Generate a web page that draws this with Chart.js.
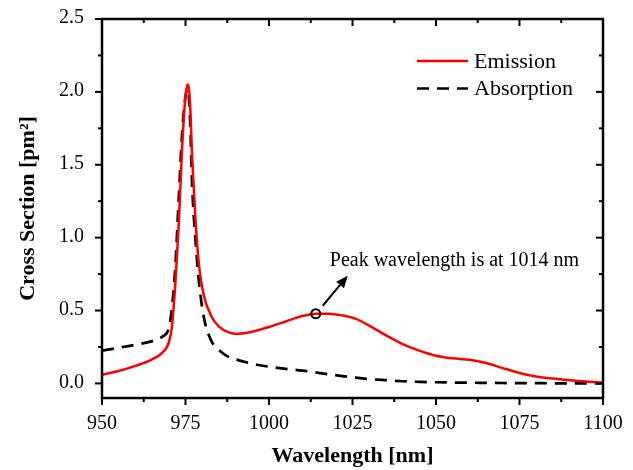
<!DOCTYPE html>
<html>
<head>
<meta charset="utf-8">
<script src="https://cdn.jsdelivr.net/npm/chart.js@4"></script>
<style>
  body { margin: 0; background: #fff; }
  canvas { display: block; }
</style>
</head>
<body>
<canvas id="xsChart" width="633" height="470"></canvas>
<script>
// wavelength grid (nm) shared by both curves
const wavelengths = [950, 955, 960, 965, 968, 970, 971, 972, 973, 974, 975, 975.6, 976.3, 977, 978, 979, 980, 981, 982, 983,
  985, 988, 990, 995, 1000, 1005, 1010, 1014, 1018, 1022, 1026, 1030, 1035, 1040, 1045, 1050, 1055, 1060, 1065, 1070,
  1075, 1080, 1085, 1090, 1095, 1100];
// cross sections (pm^2)
const emission = [0.06, 0.085, 0.12, 0.165, 0.21, 0.28, 0.4, 0.7, 1.1, 1.62, 1.97, 2.05, 1.95, 1.55, 1.12, 0.82, 0.66, 0.56, 0.5, 0.45,
  0.39, 0.35, 0.34, 0.355, 0.387, 0.425, 0.462, 0.478, 0.478, 0.466, 0.443, 0.397, 0.33, 0.27, 0.225, 0.19, 0.172, 0.162, 0.14, 0.105,
  0.072, 0.048, 0.033, 0.022, 0.013, 0.007];
const absorption = [0.225, 0.245, 0.265, 0.29, 0.32, 0.38, 0.53, 0.82, 1.28, 1.72, 1.97, 2.02, 1.85, 1.35, 0.98, 0.7, 0.52, 0.4, 0.33, 0.28,
  0.23, 0.18, 0.165, 0.135, 0.115, 0.1, 0.088, 0.075, 0.062, 0.05, 0.04, 0.03, 0.022, 0.015, 0.011, 0.008, 0.006, 0.005, 0.004, 0.003,
  0.002, 0.002, 0.001, 0.001, 0.001, 0.001];

const xTickValues = [950, 975, 1000, 1025, 1050, 1075, 1100];
const yTickValues = [0.0, 0.5, 1.0, 1.5, 2.0, 2.5];

const peakWavelength = 1014;
const peakValue = 0.478;
const peakNote = "Peak wavelength is at 1014 nm";

const FONT = '"Liberation Serif", "Times New Roman", serif';

function toPoints(ys) {
  return wavelengths.map((x, i) => ({ x: x, y: ys[i] }));
}

// midpoints between majors -> minor ticks
function minorsOf(arr) {
  const out = [];
  for (let i = 0; i < arr.length - 1; i++) out.push((arr[i] + arr[i + 1]) / 2);
  return out;
}

// kill the auto label padding so the plot box lands where we want it
function noPad(s) {
  s.paddingTop = 0; s.paddingBottom = 0; s.paddingLeft = 0; s.paddingRight = 0;
}

const frameTicks = {
  id: 'frameTicks',
  afterDatasetsDraw(chart) {
    const { ctx, chartArea: a, scales } = chart;
    ctx.save();
    ctx.strokeStyle = '#000';
    ctx.lineWidth = 2.5;
    ctx.strokeRect(a.left, a.top, a.right - a.left, a.bottom - a.top);

    function tick(x1, y1, x2, y2) {
      ctx.beginPath(); ctx.moveTo(x1, y1); ctx.lineTo(x2, y2); ctx.stroke();
    }
    ctx.lineWidth = 2;
    xTickValues.forEach(v => {
      const px = scales.x.getPixelForValue(v);
      tick(px, a.bottom, px, a.bottom + 7);
      tick(px, a.top, px, a.top + 7);
    });
    minorsOf(xTickValues).forEach(v => {
      const px = scales.x.getPixelForValue(v);
      tick(px, a.bottom, px, a.bottom + 4);
      tick(px, a.top, px, a.top + 4);
    });
    yTickValues.forEach(v => {
      const py = scales.y.getPixelForValue(v);
      tick(a.left, py, a.left - 7, py);
      tick(a.right, py, a.right - 7, py);
    });
    minorsOf(yTickValues).forEach(v => {
      const py = scales.y.getPixelForValue(v);
      tick(a.left, py, a.left - 4, py);
      tick(a.right, py, a.right - 4, py);
    });
    ctx.restore();
  }
};

const peakNotePlugin = {
  id: 'peakNote',
  afterDatasetsDraw(chart) {
    const { ctx, scales } = chart;
    const cx = scales.x.getPixelForValue(peakWavelength);
    const cy = scales.y.getPixelForValue(peakValue);
    ctx.save();
    ctx.strokeStyle = '#000';
    ctx.fillStyle = '#000';
    ctx.lineWidth = 2;
    ctx.beginPath();
    ctx.arc(cx, cy, 4.5, 0, Math.PI * 2);
    ctx.stroke();

    // arrow
    const x1 = cx + 7, y1 = cy - 8, x2 = cx + 32, y2 = cy - 38;
    const ang = Math.atan2(y2 - y1, x2 - x1);
    const hl = 12, hw = 5;
    const bx = x2 - hl * Math.cos(ang), by = y2 - hl * Math.sin(ang);
    ctx.beginPath(); ctx.moveTo(x1, y1); ctx.lineTo(bx, by); ctx.stroke();
    ctx.beginPath();
    ctx.moveTo(x2, y2);
    ctx.lineTo(bx + hw * Math.sin(ang), by - hw * Math.cos(ang));
    ctx.lineTo(bx - hw * Math.sin(ang), by + hw * Math.cos(ang));
    ctx.closePath();
    ctx.fill();

    ctx.font = '20px ' + FONT;
    ctx.textBaseline = 'alphabetic';
    ctx.textAlign = 'left';
    ctx.fillText(peakNote, cx + 14, cy - 48);
    ctx.restore();
  }
};

const lineLegend = {
  id: 'lineLegend',
  afterDraw(chart) {
    const { ctx } = chart;
    ctx.save();
    ctx.font = '22px ' + FONT;
    ctx.textBaseline = 'middle';
    ctx.fillStyle = '#000';
    chart.data.datasets.forEach((ds, i) => {
      const y = 61 + i * 27.5;
      ctx.strokeStyle = ds.borderColor;
      ctx.lineWidth = ds.borderWidth;
      ctx.setLineDash(ds.borderDash || []);
      ctx.beginPath(); ctx.moveTo(417, y); ctx.lineTo(468, y); ctx.stroke();
      ctx.setLineDash([]);
      ctx.fillText(ds.label, 474, y + 1);
    });
    ctx.restore();
  }
};

new Chart(document.getElementById('xsChart').getContext('2d'), {
  type: 'line',
  data: {
    datasets: [
      { label: 'Emission', data: toPoints(emission), borderColor: '#ff0000', borderWidth: 2.5,
        cubicInterpolationMode: 'monotone', fill: false },
      { label: 'Absorption', data: toPoints(absorption), borderColor: '#000000', borderWidth: 2.7,
        borderDash: [12, 8], cubicInterpolationMode: 'monotone', fill: false }
    ]
  },
  options: {
    responsive: false,
    animation: false,
    layout: { padding: { left: 0, right: 30, top: 19, bottom: 0 } },
    elements: { point: { radius: 0 } },
    plugins: { legend: { display: false }, tooltip: { enabled: false } },
    scales: {
      x: {
        type: 'linear', min: 950, max: 1100,
        grid: { display: false, drawTicks: false },
        border: { display: false },
        afterBuildTicks: s => { s.ticks = xTickValues.map(v => ({ value: v })); },
        afterFit: s => { s.height = 72; noPad(s); },
        ticks: { padding: 14, maxRotation: 0, color: '#000', font: { family: FONT, size: 20 },
                 callback: v => String(v) },
        title: { display: true, text: 'Wavelength [nm]', color: '#000',
                 font: { family: FONT, size: 22, weight: 'bold' }, padding: { top: 0, bottom: 0 } }
      },
      y: {
        min: -0.1, max: 2.5,
        grid: { display: false, drawTicks: false },
        border: { display: false },
        afterBuildTicks: s => { s.ticks = yTickValues.map(v => ({ value: v })); },
        afterFit: s => { s.width = 102; noPad(s); },
        ticks: { padding: 18, labelOffset: -1, color: '#000', font: { family: FONT, size: 20 },
                 callback: v => v.toFixed(1) },
        title: { display: true, text: 'Cross Section [pm²]', color: '#000',
                 font: { family: FONT, size: 22, weight: 'bold' }, padding: { top: 15, bottom: 0 } }
      }
    }
  },
  plugins: [frameTicks, peakNotePlugin, lineLegend]
});
</script>
</body>
</html>
